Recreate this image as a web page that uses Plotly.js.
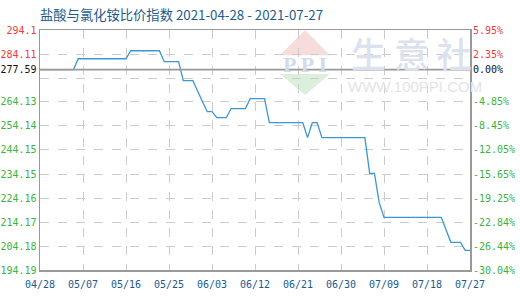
<!DOCTYPE html>
<html>
<head>
<meta charset="utf-8">
<script src="https://cdn.plot.ly/plotly-3.0.1.min.js"></script>
<style>
  html, body { margin: 0; padding: 0; background: #fff; }
  #chart { width: 520px; height: 300px; }
</style>
</head>
<body>
<div id="chart"></div>
<script>
// Hydrochloric acid / ammonium chloride price ratio index, daily
const startDate = '2021-04-28';
const baseValue = 277.59;
const indexValues = [
  277.59, 277.59, 277.59, 277.59, 277.59, 277.59, 277.59, 277.59,
  282.14, 282.14, 282.14, 282.14, 282.14, 282.14, 282.14, 282.14, 282.14, 282.14, 282.14,
  285.46, 285.46, 285.46, 285.46, 285.46, 285.46, 285.46,
  280.9, 280.9, 280.9, 280.9,
  273.0, 273.0, 273.0,
  268.6, 264.4,
  260.1, 260.1,
  257.6, 257.6, 257.6,
  261.4, 261.4, 261.4, 261.4,
  265.5, 265.5, 265.5, 265.5,
  255.55, 255.55, 255.55, 255.55, 255.55, 255.55, 255.55, 255.55,
  249.3,
  255.55, 255.55,
  249.3, 249.3, 249.3, 249.3, 249.3, 249.3, 249.3, 249.3, 249.3, 249.3,
  234.4, 234.4,
  222.2,
  216.1, 216.1, 216.1, 216.1, 216.1, 216.1, 216.1, 216.1, 216.1, 216.1, 216.1, 216.1, 216.1,
  210.8,
  205.7, 205.7, 205.7,
  202.4, 202.4
];

// Axis ticks
const leftTickVals = [194.19, 204.18, 214.17, 224.16, 234.15, 244.15, 254.14, 264.13, 274.12, 277.59, 284.11, 294.1];
const leftTickText = ['194.19', '204.18', '214.17', '224.16', '234.15', '244.15', '254.14', '264.13', '', '277.59', '284.11', '294.1'];
const rightTickText = ['-30.04%', '-26.44%', '-22.84%', '-19.25%', '-15.65%', '-12.05%', '-8.45%', '-4.85%', '', '0.00%', '2.35%', '5.95%'];
const xTickVals = ['2021-04-28', '2021-05-07', '2021-05-16', '2021-05-25', '2021-06-03', '2021-06-12',
                   '2021-06-21', '2021-06-30', '2021-07-09', '2021-07-18', '2021-07-27'];
const xTickText = ['04/28', '05/07', '05/16', '05/25', '06/03', '06/12', '06/21', '06/30', '07/09', '07/18', '07/27'];

// Daily calendar for the series
function dayList(start, n) {
  const out = [];
  const d0 = new Date(start + 'T00:00:00Z');
  for (let i = 0; i < n; i++) {
    const d = new Date(d0.getTime() + i * 86400000);
    out.push(d.toISOString().slice(0, 10));
  }
  return out;
}
const dates = dayList(startDate, indexValues.length);

const RED = '#f03c3c', GREEN = '#3cb43c', BLACK = '#111111';
function colorFor(v) { return v > baseValue + 1e-9 ? RED : (v < baseValue - 1e-9 ? GREEN : BLACK); }
const leftLabels = leftTickText.map((t, i) => t ? `<span style="color:${colorFor(leftTickVals[i])}">${t}</span>` : '');
const rightLabels = rightTickText.map((t, i) => t ? `<span style="color:${colorFor(leftTickVals[i])}">${t}</span>` : '');

const yRange = [leftTickVals[0], leftTickVals[leftTickVals.length - 1]];
const tickFont = { family: 'DejaVu Sans Mono, monospace', size: 10, color: '#111' };

const traces = [
  {
    x: dates, y: indexValues, type: 'scatter', mode: 'lines',
    line: { color: '#3a96d4', width: 1.3 }, hoverinfo: 'x+y', showlegend: false
  },
  {
    x: dates, y: indexValues, type: 'scatter', mode: 'lines', yaxis: 'y2',
    line: { color: 'rgba(0,0,0,0)', width: 1 }, hoverinfo: 'skip', showlegend: false
  }
];

const layout = {
  width: 520, height: 300,
  margin: { l: 40, r: 50, t: 30, b: 30 },
  paper_bgcolor: '#ffffff', plot_bgcolor: '#ffffff',
  title: {
    text: '盐酸与氯化铵比价指数 2021-04-28 - 2021-07-27',
    font: { family: 'Noto Sans CJK SC, sans-serif', size: 13.3, color: '#1e5b8c' },
    xref: 'paper', x: 0, xanchor: 'left',
    yref: 'container', y: 0.95, yanchor: 'middle'
  },
  xaxis: {
    type: 'date', range: [xTickVals[0], xTickVals[xTickVals.length - 1]],
    tickmode: 'array', tickvals: xTickVals, ticktext: xTickText,
    tickfont: { family: 'DejaVu Sans Mono, monospace', size: 10, color: '#1a5a8c' },
    ticks: '', ticklen: 0, ticklabelstandoff: 4,
    showgrid: true, gridcolor: '#cccccc', griddash: 'dash', gridwidth: 1,
    showline: true, linecolor: '#999999', linewidth: 1.5, mirror: true,
    zeroline: false, fixedrange: true
  },
  yaxis: {
    range: yRange, autorange: false,
    tickmode: 'array', tickvals: leftTickVals, ticktext: leftLabels,
    tickfont: tickFont, ticks: '', ticklabelstandoff: 0,
    showgrid: true, gridcolor: '#cccccc', griddash: 'dash', gridwidth: 1,
    showline: true, linecolor: '#999999', linewidth: 1.5, mirror: true,
    zeroline: false, fixedrange: true
  },
  yaxis2: {
    overlaying: 'y', side: 'right', anchor: 'x',
    range: yRange, autorange: false,
    tickmode: 'array', tickvals: leftTickVals, ticktext: rightLabels,
    tickfont: tickFont, ticks: '', ticklabelstandoff: 2,
    showgrid: false, zeroline: false, showline: false, fixedrange: true
  },
  shapes: [
    // reference level of the index
    { type: 'line', xref: 'paper', x0: 0, x1: 1, yref: 'y', y0: baseValue, y1: baseValue,
      line: { color: '#999999', width: 1.6 }, layer: 'above' },
    // logo of the publisher, drawn faintly behind the data
    { type: 'path', xref: 'paper', yref: 'paper', path: 'M0.5581,0.895 L0.6163,1.0 L0.6744,0.895 Z',
      fillcolor: '#f7dcdc', line: { width: 0 }, layer: 'below' },
    { type: 'path', xref: 'paper', yref: 'paper', path: 'M0.5581,0.8167 L0.6744,0.8167 L0.6163,0.7292 Z',
      fillcolor: '#dcefdc', line: { width: 0 }, layer: 'below' }
  ],
  annotations: [
    { xref: 'paper', yref: 'paper', x: 0.6163, y: 0.857, xanchor: 'center', yanchor: 'middle',
      text: '<b>P P I</b>', showarrow: false,
      font: { family: 'Liberation Serif, serif', size: 22, color: '#d3dbea' } },
    { xref: 'paper', yref: 'paper', x: 0.865, y: 0.905, xanchor: 'center', yanchor: 'middle',
      text: '生 意 社', showarrow: false,
      font: { family: 'Noto Sans CJK SC, sans-serif', size: 35, color: '#dce2ed', weight: 500 } },
    { xref: 'paper', yref: 'paper', x: 0.872, y: 0.764, xanchor: 'center', yanchor: 'middle',
      text: 'WWW.100PPI.COM', showarrow: false,
      font: { family: 'Liberation Sans, Arial, sans-serif', size: 15, color: '#e4e4e4' } }
  ]
};

Plotly.newPlot('chart', traces, layout, { displayModeBar: false, staticPlot: true });
</script>
</body>
</html>
